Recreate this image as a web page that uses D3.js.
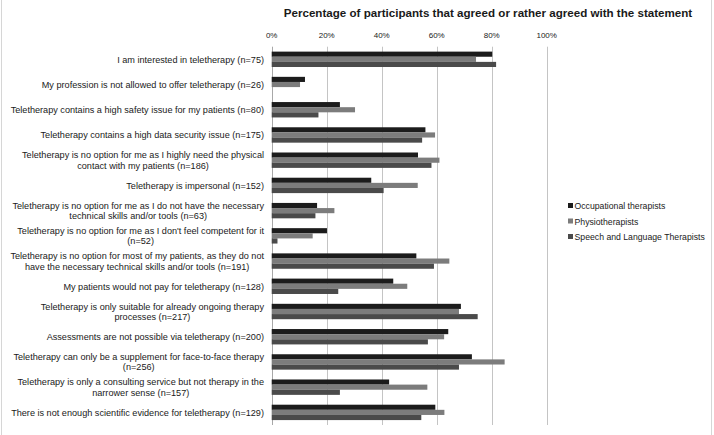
<!DOCTYPE html>
<meta charset="utf-8">
<script src="https://d3js.org/d3.v7.min.js"></script>
<style>
  body { margin: 0; background: #fff; }
  text { font-family: "Liberation Sans", Arial, sans-serif; fill: #1a1a1a; }
</style>
<body>
<div id="chart"></div>
<script>
// statements ("|" marks the line break of the original)
var statements = [
  "I am interested in teletherapy (n=75)",
  "My profession is not allowed to offer teletherapy (n=26)",
  "Teletherapy contains a high safety issue for my patients (n=80)",
  "Teletherapy contains a high data security issue (n=175)",
  "Teletherapy is no option for me as I highly need the physical|contact with my patients (n=186)",
  "Teletherapy is impersonal (n=152)",
  "Teletherapy is no option for me as I do not have the necessary|technical skills and/or tools (n=63)",
  "Teletherapy is no option for me as I don't feel competent for it|(n=52)",
  "Teletherapy is no option for most of my patients, as they do not|have the necessary technical skills and/or tools (n=191)",
  "My patients would not pay for teletherapy (n=128)",
  "Teletherapy is only suitable for already ongoing therapy|processes (n=217)",
  "Assessments are not possible via teletherapy (n=200)",
  "Teletherapy can only be a supplement for face-to-face therapy|(n=256)",
  "Teletherapy is only a consulting service but not therapy in the|narrower sense (n=157)",
  "There is not enough scientific evidence for teletherapy (n=129)"
];

var groups = ["Occupational therapists", "Physiotherapists", "Speech and Language Therapists"];

var occupational = [80.2, 12.1, 24.8, 55.9, 53.2, 36.2, 16.5, 20.1, 52.6, 44.2, 68.8, 64.2, 72.8, 42.7, 59.5];
var physio       = [74.3, 10.3, 30.3, 59.4, 61.0, 53.1, 22.8, 14.9, 64.6, 49.3, 68.1, 62.7, 84.7, 56.6, 62.8];
var speech       = [81.6, 0,    17.0, 54.7, 58.1, 40.7, 15.9, 2.1,  59.0, 24.2, 74.9, 56.8, 68.1, 24.8, 54.4];

var ticks = [0, 20, 40, 60, 80, 100];
var colors = ["#1c1c1c", "#7c7c7c", "#4a4a4a"];

var W = 714, H = 435;
var plotLeft = 271.7, plotRight = 546.7, plotTop = 46.7, plotBottom = 425;

var svg = d3.select("#chart").append("svg")
  .attr("width", W).attr("height", H);

// side borders of the original frame
svg.append("line").attr("x1", 1.5).attr("x2", 1.5).attr("y1", 0).attr("y2", H)
  .style("stroke", "#d6d6d6");
svg.append("line").attr("x1", 711.5).attr("x2", 711.5).attr("y1", 0).attr("y2", H)
  .style("stroke", "#d6d6d6");

var x = d3.scaleLinear().domain([0, 100]).range([plotLeft, plotRight]);

var y0 = d3.scaleBand()
  .domain(d3.range(statements.length))
  .range([plotTop, plotBottom])
  .paddingInner(0.39)
  .paddingOuter(0.195);

var y1 = d3.scaleBand()
  .domain(d3.range(groups.length))
  .range([0, y0.bandwidth()]);

// title
svg.append("text")
  .attr("x", 488).attr("y", 17)
  .attr("text-anchor", "middle")
  .style("font-size", "11.6px")
  .style("font-weight", "bold")
  .text("Percentage of participants that agreed or rather agreed with the statement");

// gridlines
svg.append("g").selectAll("line")
  .data(ticks)
  .enter().append("line")
  .attr("x1", function(d) { return Math.round(x(d)) + 0.5; })
  .attr("x2", function(d) { return Math.round(x(d)) + 0.5; })
  .attr("y1", plotTop).attr("y2", plotBottom)
  .style("stroke", function(d) { return d == 0 ? "#a8a8a8" : "#c4c4c4"; })
  .style("stroke-width", 1);

// tick labels
svg.append("g").selectAll("text")
  .data(ticks)
  .enter().append("text")
  .attr("x", function(d) { return x(d); })
  .attr("y", 38)
  .attr("text-anchor", "middle")
  .style("font-size", "8px")
  .text(function(d) { return d + "%"; });

// category labels
var lab = svg.append("g").selectAll("text")
  .data(statements)
  .enter().append("text")
  .attr("text-anchor", "end")
  .style("font-size", "9.15px")
  .attr("transform", function(d, i) {
    return "translate(264," + (y0(i) + y0.bandwidth() / 2) + ")";
  });

lab.each(function(d) {
  var lines = d.split("|");
  var t = d3.select(this);
  lines.forEach(function(l, k) {
    t.append("tspan")
      .attr("x", 0)
      .attr("y", (k - (lines.length - 1) / 2) * 10.5 + 3.3)
      .text(l);
  });
});

// centre the second line of two-line labels under the first line
lab.each(function(d) {
  var tsp = d3.select(this).selectAll("tspan").nodes();
  if (tsp.length > 1) {
    var w0 = tsp[0].getComputedTextLength();
    d3.select(tsp[1])
      .attr("text-anchor", "middle")
      .attr("x", -w0 / 2);
  }
});

// bars
var series = [occupational, physio, speech];
var bars = svg.append("g");
series.forEach(function(vals, s) {
  bars.selectAll(".bar" + s)
    .data(vals)
    .enter().append("rect")
    .attr("class", "bar" + s)
    .attr("x", x(0))
    .attr("y", function(d, i) { return y0(i) + y1(s); })
    .attr("width", function(d) { return x(d) - x(0); })
    .attr("height", y1.bandwidth())
    .style("fill", colors[s]);
});

// legend
var legend = svg.append("g").selectAll("g")
  .data(groups)
  .enter().append("g")
  .attr("transform", function(d, i) { return "translate(568," + (206 + i * 15.5) + ")"; });

legend.append("rect")
  .attr("x", 0).attr("y", -3)
  .attr("width", 5).attr("height", 5)
  .style("fill", function(d, i) { return colors[i]; });

legend.append("text")
  .attr("x", 6.5).attr("y", 3)
  .style("font-size", "8.7px")
  .text(function(d) { return d; });
</script>
</body>
